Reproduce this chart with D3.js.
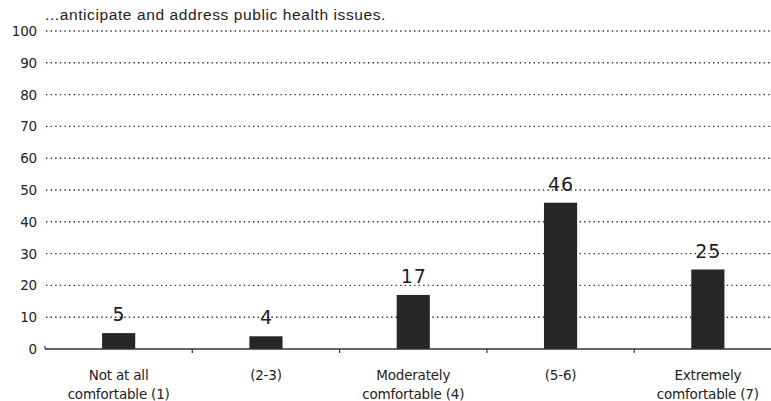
<!DOCTYPE html>
<html>
<head>
<meta charset="utf-8">
<script src="https://cdn.jsdelivr.net/npm/d3@7"></script>
<style>
  html, body { margin: 0; padding: 0; background: #fff; }
  svg { display: block; }
</style>
</head>
<body>
<svg id="chart" width="771" height="401"></svg>
<script>
// Survey responses: comfort level (percent of respondents)
const title = "...anticipate and address public health issues.";
const categories = [
  ["Not at all", "comfortable (1)"],
  ["(2-3)"],
  ["Moderately", "comfortable (4)"],
  ["(5-6)"],
  ["Extremely", "comfortable (7)"]
];
const values = [5, 4, 17, 46, 25];
const yTicks = [0, 10, 20, 30, 40, 50, 60, 70, 80, 90, 100];

const svg = d3.select("#chart");
const font = "'Liberation Sans', Arial, sans-serif";
const wide = "'DejaVu Sans', sans-serif";

const x = d3.scaleBand()
  .domain(d3.range(values.length))
  .range([45, 781.5])
  .paddingInner(0.775)
  .paddingOuter(0.3875);

const y = d3.scaleLinear().domain([0, 100]).range([349, 31]);

// Title
svg.append("text")
  .attr("x", 45).attr("y", 20)
  .attr("font-family", font).attr("font-size", 15.5)
  .attr("letter-spacing", 0.6)
  .attr("fill", "#222")
  .text(title);

// Dotted gridlines
svg.append("g").selectAll("line")
  .data(yTicks.filter(d => d > 0))
  .join("line")
  .attr("x1", 46).attr("x2", 771)
  .attr("y1", d => y(d)).attr("y2", d => y(d))
  .attr("stroke", "#333").attr("stroke-width", 1.4)
  .attr("stroke-dasharray", "1.4,3.2");

// Y tick labels
svg.append("g").selectAll("text")
  .data(yTicks)
  .join("text")
  .attr("x", 37).attr("y", d => y(d) + 5)
  .attr("text-anchor", "end")
  .attr("font-family", wide).attr("font-size", 13.5)
  .attr("letter-spacing", -0.2)
  .attr("fill", "#222")
  .text(d => d);

// Bars
svg.append("g").selectAll("rect")
  .data(values)
  .join("rect")
  .attr("x", (d, i) => x(i))
  .attr("width", x.bandwidth())
  .attr("y", d => y(d))
  .attr("height", d => y(0) - y(d))
  .attr("fill", "#262626");

// Value labels
svg.append("g").selectAll("text")
  .data(values)
  .join("text")
  .attr("x", (d, i) => x(i) + x.bandwidth() / 2 + 0.5)
  .attr("y", d => y(d) - 12)
  .attr("text-anchor", "middle")
  .attr("font-family", wide).attr("font-size", 19)
  .attr("letter-spacing", 1)
  .attr("fill", "#1e1e1e")
  .text(d => d);

// X axis baseline and category ticks
const step = x.step();
const axis = svg.append("g");
axis.append("line")
  .attr("x1", 45).attr("x2", 771)
  .attr("y1", y(0)).attr("y2", y(0))
  .attr("stroke", "#333").attr("stroke-width", 1.3);
axis.append("line")
  .attr("x1", 45).attr("x2", 45)
  .attr("y1", y(0) - 3).attr("y2", y(0))
  .attr("stroke", "#333").attr("stroke-width", 1.2);
axis.selectAll("line.tick")
  .data(d3.range(1, values.length))
  .join("line")
  .attr("class", "tick")
  .attr("x1", i => 45 + i * step).attr("x2", i => 45 + i * step)
  .attr("y1", y(0)).attr("y2", y(0) + 4)
  .attr("stroke", "#333").attr("stroke-width", 1.2);

// Category labels
svg.append("g").selectAll("text")
  .data(categories)
  .join("text")
  .attr("x", (d, i) => x(i) + x.bandwidth() / 2)
  .attr("y", 380)
  .attr("text-anchor", "middle")
  .attr("font-family", wide).attr("font-size", 13.5)
  .attr("letter-spacing", -0.2)
  .attr("fill", "#222")
  .each(function(lines) {
    const t = d3.select(this);
    lines.forEach((ln, k) => {
      t.append("tspan")
        .attr("x", t.attr("x"))
        .attr("dy", k === 0 ? 0 : 19)
        .text(ln);
    });
  });
</script>
</body>
</html>
